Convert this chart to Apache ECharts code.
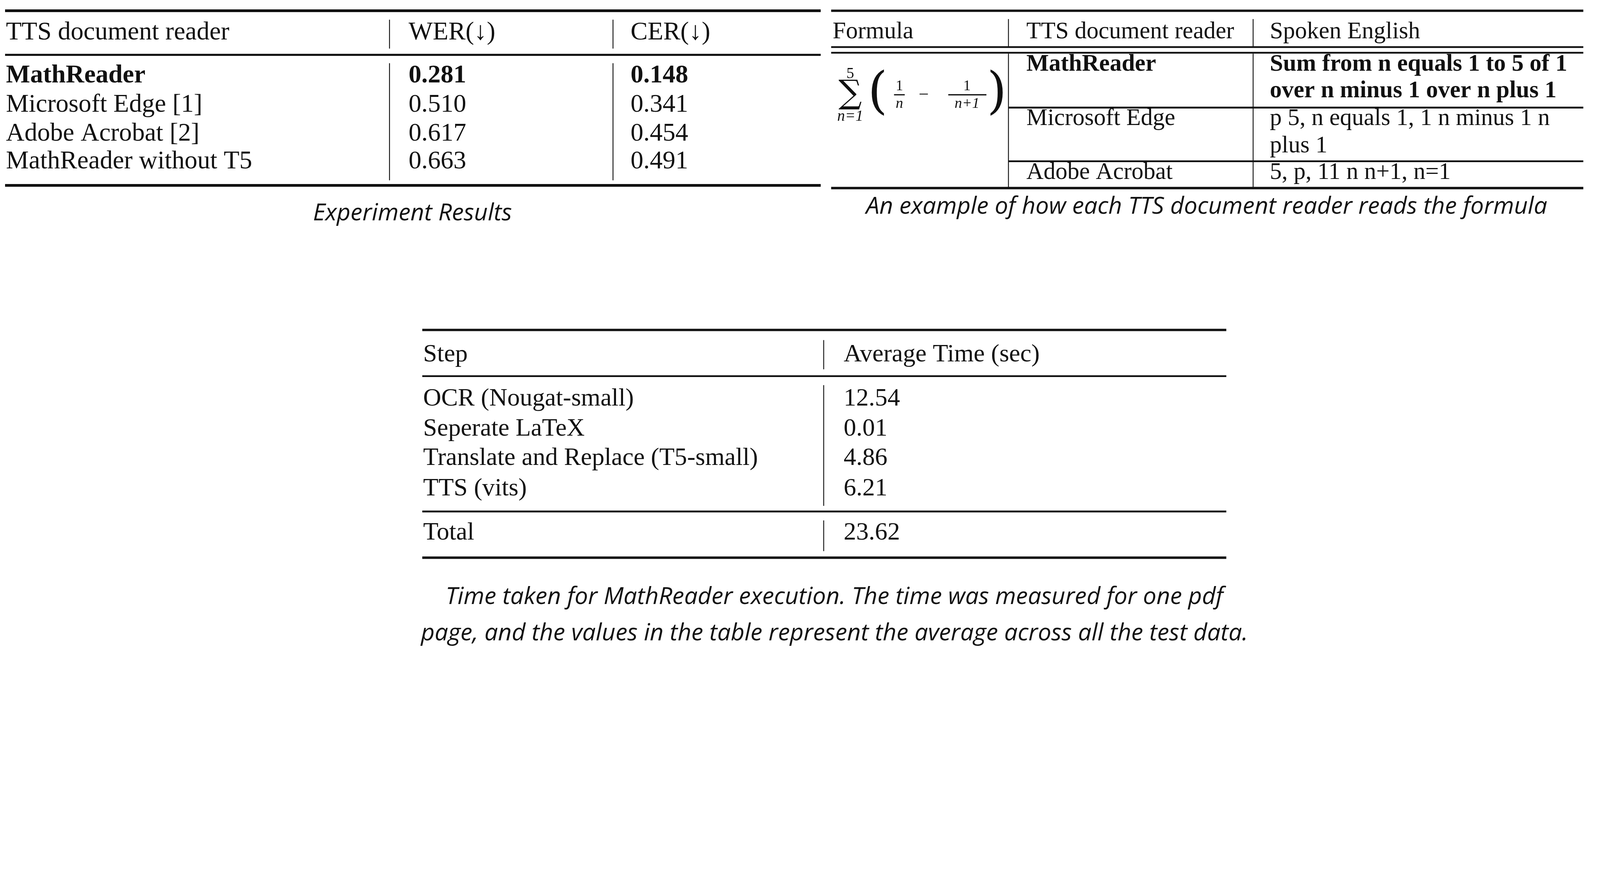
<!DOCTYPE html>
<html lang="en">
<head>
    <meta charset="UTF-8">
    <title>MathReader tables</title>
    <script src="https://cdn.jsdelivr.net/npm/echarts@6.0.0/dist/echarts.min.js"></script>
    <style>
        html, body { margin: 0; padding: 0; background: #fff; overflow: hidden; }
        #main { width: 100vw; height: 100vh; }
    </style>
</head>
<body>
<div id="main"></div>
<script>
    // table 1: experiment results
    var readers = ['MathReader', 'Microsoft Edge [1]', 'Adobe Acrobat [2]', 'MathReader without T5'];
    var wer = ['0.281', '0.510', '0.617', '0.663'];
    var cer = ['0.148', '0.341', '0.454', '0.491'];
    // table 2: spoken english example
    var exReaders = ['MathReader', 'Microsoft Edge', 'Adobe Acrobat'];
    var spoken = [
        ['Sum from n equals 1 to 5 of 1', 'over n minus 1 over n plus 1'],
        ['p 5, n equals 1, 1 n minus 1 n', 'plus 1'],
        ['5, p, 11 n n+1, n=1']
    ];
    // table 3: execution time
    var steps = ['OCR (Nougat-small)', 'Seperate LaTeX', 'Translate and Replace (T5-small)', 'TTS (vits)'];
    var times = ['12.54', '0.01', '4.86', '6.21'];
    var total = '23.62';

    var myChart = echarts.init(document.getElementById('main'));
    // layout is written in 5369-wide reference pixels, scaled to the real canvas
    var k = myChart.getWidth() / 5369;

    var serif = '"Liberation Serif", "DejaVu Serif", serif';
    var capFont = '"Open Sans", "DejaVu Sans", sans-serif';
    var els = [];

    function txt(x, y, s, size, opt) {
        opt = opt || {};
        els.push({
            type: 'text', x: x * k, y: y * k,
            style: {
                text: s, fill: '#111', fontSize: size * k,
                fontFamily: opt.family || serif,
                fontWeight: opt.bold ? 'bold' : 'normal',
                fontStyle: opt.italic ? 'italic' : 'normal',
                align: opt.align || 'left', verticalAlign: 'middle'
            }
        });
    }
    function line(x1, y1, x2, y2, w) {
        els.push({
            type: 'line', shape: {x1: x1 * k, y1: y1 * k, x2: x2 * k, y2: y2 * k},
            style: {stroke: '#111', lineWidth: (w || 3) * k}
        });
    }

    // ---- table 1
    var f1 = 86;
    line(17, 36, 2754, 36, 9);
    line(17, 184, 2754, 184, 7);
    line(17, 622, 2754, 622, 9);
    [1307, 2057].forEach(function (x) {
        line(x, 66, x, 163, 3);
        line(x, 212, x, 605, 3);
    });
    txt(20, 110, 'TTS document reader', f1);
    txt(1371, 110, 'WER(\u2193)', f1);
    txt(2116, 110, 'CER(\u2193)', f1);
    var rowY1 = [255, 352, 449, 543];
    readers.forEach(function (r, i) {
        var b = i === 0;
        txt(20, rowY1[i], r, f1, {bold: b});
        txt(1371, rowY1[i], wer[i], f1, {bold: b});
        txt(2116, rowY1[i], cer[i], f1, {bold: b});
    });
    txt(1384, 717, 'Experiment Results', 80, {italic: true, align: 'center', family: capFont});

    // ---- table 2
    var f2 = 80, L2 = 2789, R2 = 5313;
    line(L2, 36, R2, 36, 8);
    line(L2, 158, R2, 158, 6);
    line(L2, 177, R2, 177, 6);
    line(L2, 631, R2, 631, 8);
    line(3384, 361, R2, 361, 6);
    line(3384, 541, R2, 541, 6);
    [3384, 4205].forEach(function (x) {
        line(x, 64, x, 156, 3);
        line(x, 180, x, 630, 3);
    });
    txt(2794, 107, 'Formula', f2);
    txt(3444, 107, 'TTS document reader', f2);
    txt(4261, 107, 'Spoken English', f2);
    var rowY2 = [[217, 306], [398, 490], [579]];
    exReaders.forEach(function (r, i) {
        var b = i === 0;
        txt(3444, rowY2[i][0], r, f2, {bold: b});
        spoken[i].forEach(function (s, j) {
            txt(4261, rowY2[i][j], s, f2, {bold: b});
        });
    });
    // formula: sum_{n=1}^{5} (1/n - 1/(n+1))
    txt(2853, 248, '5', 52, {align: 'center'});
    txt(2853, 318, '\u2211', 110, {align: 'center', family: '"DejaVu Serif", serif'});
    txt(2853, 392, 'n=1', 52, {align: 'center', italic: true});
    txt(2945, 318, '(', 170, {align: 'center', family: '"DejaVu Serif", serif'});
    txt(3018, 290, '1', 50, {align: 'center'});
    line(3000, 318, 3036, 318, 4);
    txt(3018, 348, 'n', 50, {align: 'center', italic: true});
    txt(3100, 320, '\u2212', 60, {align: 'center'});
    txt(3245, 290, '1', 50, {align: 'center'});
    line(3182, 318, 3310, 318, 4);
    txt(3245, 348, 'n+1', 50, {align: 'center', italic: true});
    txt(3345, 318, ')', 170, {align: 'center', family: '"DejaVu Serif", serif'});
    txt(4049, 694, 'An example of how each TTS document reader reads the formula', 80,
        {italic: true, align: 'center', family: capFont});

    // ---- table 3
    var f3 = 84, L3 = 1417, R3 = 4115, C3 = 2764;
    line(L3, 1107, R3, 1107, 8);
    line(L3, 1262, R3, 1262, 6);
    line(L3, 1716, R3, 1716, 6);
    line(L3, 1871, R3, 1871, 8);
    line(C3, 1141, C3, 1239, 3);
    line(C3, 1292, C3, 1697, 3);
    line(C3, 1746, C3, 1849, 3);
    txt(1420, 1190, 'Step', f3);
    txt(2831, 1190, 'Average Time (sec)', f3);
    var rowY3 = [1338, 1440, 1538, 1640];
    steps.forEach(function (s, i) {
        txt(1420, rowY3[i], s, f3);
        txt(2831, rowY3[i], times[i], f3);
    });
    txt(1420, 1788, 'Total', f3);
    txt(2831, 1788, total, f3);
    txt(2800, 2004, 'Time taken for MathReader execution. The time was measured for one pdf', 80,
        {italic: true, align: 'center', family: capFont});
    txt(2800, 2125, 'page, and the values in the table represent the average across all the test data.', 80,
        {italic: true, align: 'center', family: capFont});

    myChart.setOption({
        backgroundColor: '#fff',
        animation: false,
        graphic: {elements: els}
    });
</script>
</body>
</html>
